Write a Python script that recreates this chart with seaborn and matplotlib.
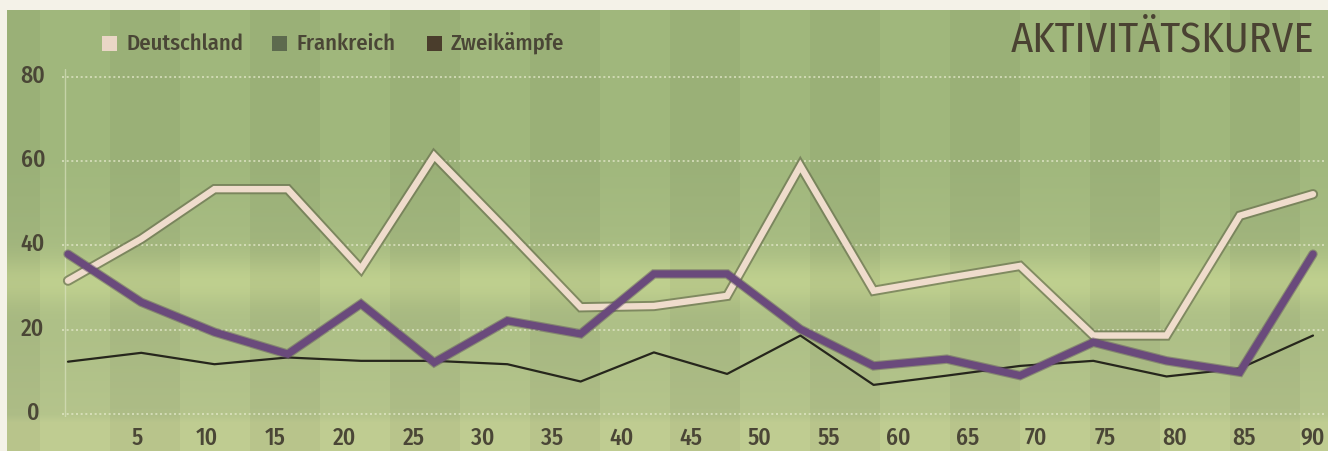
import numpy as np
import pandas as pd
import matplotlib
matplotlib.use("Agg")
import matplotlib.pyplot as plt
import matplotlib.patheffects as pe
from matplotlib.patches import Rectangle
from matplotlib.transforms import ScaledTranslation
import seaborn as sns

# ---------------- data ----------------
tick_minutes = [5, 10, 15, 20, 25, 30, 35, 40, 45, 50, 55, 60, 65, 70, 75, 80, 85, 90]
y_ticks = [0, 20, 40, 60, 80]
deutschland = [31.6, 41.5, 53.3, 53.3, 34.4, 61.2, 43.4, 25.3, 25.6, 28.0,
               58.8, 29.2, 32.2, 35.1, 18.6, 18.6, 47.0, 52.1]
frankreich = [37.9, 26.5, 19.4, 14.2, 26.1, 12.2, 22.1, 19.0, 33.2, 33.2,
              20.1, 11.4, 13.0, 9.1, 17.0, 12.6, 9.9, 37.9]
zweikaempfe = [12.4, 14.5, 11.8, 13.4, 12.6, 12.6, 11.8, 7.7, 14.6, 9.5,
               18.6, 6.9, 9.1, 11.4, 12.6, 8.9, 10.8, 18.6]
# 18 readings spread evenly over the 90 minutes
sample_minute = np.linspace(0, 90, len(deutschland))

df = pd.DataFrame({"Minute": sample_minute, "Deutschland": deutschland,
                   "Frankreich": frankreich, "Zweikämpfe": zweikaempfe})

sns.set_theme(style="white")
FONT = ["Fira Sans Condensed", "Barlow Semi Condensed", "Roboto", "DejaVu Sans"]
plt.rcParams["font.family"] = FONT
TXT = "#4a4636"

W, H = 1328, 452
fig = plt.figure(figsize=(W / 100, H / 100), dpi=100)

# ---------------- background (grass texture) ----------------
bg = fig.add_axes([0, 0, 1, 1], zorder=-5)
xx = np.arange(W)[None, :]
yy = np.arange(H)[:, None]
top_col = np.array([0.63, 0.72, 0.49])
low_col = np.array([0.71, 0.77, 0.55])
t = np.clip((yy - 160) / 260.0, 0, 1)[..., None]
img = (1 - t) * top_col + t * low_col
img = img * np.ones((H, W, 3))
stripe = (((xx - 40) // 70) % 2).astype(float)
shade = 1.0 - 0.04 * stripe
img = img * shade[..., None]
band = np.exp(-((yy - 282) / 24.0) ** 2)
img = img + band[..., None] * np.array([0.08, 0.07, 0.04])
below = np.clip((yy - 415) / 8.0, 0, 1)
img = img + below[..., None] * np.array([0.04, 0.03, 0.02])
img = np.clip(img, 0, 1)
img[:11, :, :] = [0.96, 0.95, 0.91]
img[:, :7, :] = [0.96, 0.95, 0.91]
bg.imshow(img, extent=[0, W, H, 0], aspect="auto", interpolation="bilinear")
bg.set_xlim(0, W)
bg.set_ylim(H, 0)
bg.axis("off")

# ---------------- main axes ----------------
left_px, right_px, top_px, bot_px = 62, 1325, 70, 418
ax = fig.add_axes([left_px / W, (H - bot_px) / H, (right_px - left_px) / W,
                   (bot_px - top_px) / H])
ax.set_facecolor("none")
ppm = (1313 - 68) / 90.0
ax.set_xlim(-(68 - left_px) / ppm, 90 + (right_px - 1313) / ppm)
ppu = (415 - 77.5) / 80.0
ax.set_ylim(-(bot_px - 415) / ppu, 80 + (77.5 - top_px) / ppu)

for v in y_ticks:
    ax.axhline(v, color="#e6eacd", lw=1.2, ls=(0, (1.2, 1.6)), alpha=0.8, zorder=1)
ax.axvline(ax.get_xlim()[0] + 3 / ppm, color="#dfe6c6", lw=1.0, alpha=0.6, zorder=1)

sns.lineplot(data=df, x="Minute", y="Deutschland", ax=ax, color="#efdccc",
             linewidth=4.6, zorder=3, solid_joinstyle="miter",
             path_effects=[pe.Stroke(linewidth=7.4, foreground="#6a7150", alpha=0.7),
                           pe.Normal()])
sns.lineplot(data=df, x="Minute", y="Zweikämpfe", ax=ax, color="#26261c",
             linewidth=1.6, zorder=4)
sns.lineplot(data=df, x="Minute", y="Frankreich", ax=ax, color="#6a4a7c",
             linewidth=5.2, zorder=5, solid_joinstyle="miter",
             path_effects=[pe.Stroke(linewidth=6.8, foreground="#5a4a5a", alpha=0.45),
                           pe.Normal()])

ax.set_xticks(tick_minutes)
ax.set_xticklabels([str(t) for t in tick_minutes])
ax.set_yticks(y_ticks)
ax.set_yticklabels([str(t) for t in y_ticks])
ax.tick_params(axis="both", length=0, labelsize=17, labelcolor=TXT)
ax.tick_params(axis="y", pad=21)
ax.tick_params(axis="x", pad=6)
shift_up = ScaledTranslation(0, 4 / 100, fig.dpi_scale_trans)
for lab in ax.get_yticklabels():
    lab.set_horizontalalignment("center")
    lab.set_fontweight("medium")
    lab.set_transform(lab.get_transform() + shift_up)
for lab in ax.get_xticklabels():
    lab.set_fontweight("medium")
ax.set_xlabel("")
ax.set_ylabel("")
for s in ax.spines.values():
    s.set_visible(False)
ax.grid(False)

# ---------------- legend ----------------
legend_items = [("Deutschland", "#ead6c6", 102), ("Frankreich", "#5d6a4e", 272),
                ("Zweikämpfe", "#4a3d2c", 427)]
for name, col, x0 in legend_items:
    fig.patches.append(Rectangle((x0 / W, 1 - 52 / H), 15 / W, 15 / H,
                                 transform=fig.transFigure, facecolor=col,
                                 edgecolor="none"))
    fig.text((x0 + 24) / W, 1 - 44 / H, name, ha="left", va="center",
             fontsize=16.3, color=TXT, fontweight="medium")

fig.text(1314 / W, 1 - 40 / H, "AKTIVITÄTSKURVE", ha="right", va="center",
         fontsize=30.5, color="#4a4232", fontweight="normal")

fig.savefig("out.png", dpi=100)
